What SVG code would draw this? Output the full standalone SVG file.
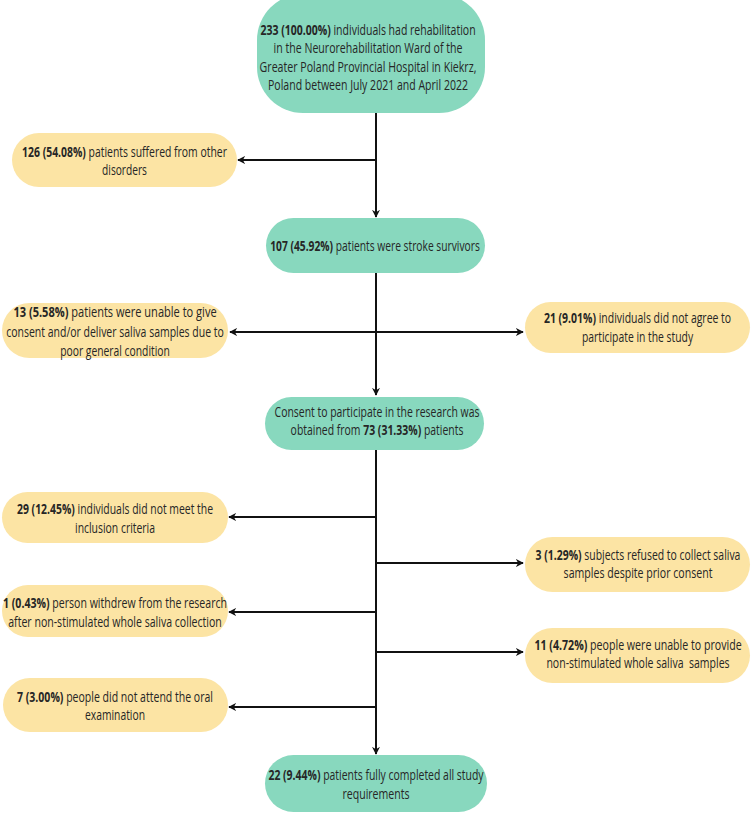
<svg xmlns="http://www.w3.org/2000/svg" width="751" height="813" viewBox="0 0 751 813">
<defs>
<marker id="ah" viewBox="0 0 10 10" refX="9" refY="5" markerWidth="8" markerHeight="8" markerUnits="userSpaceOnUse" orient="auto">
<path d="M0,0 L10,5 L0,10 L3,5 z" fill="#111"/>
</marker>
<style>
.g{fill:#88d8be}
.y{fill:#fce4a4}
text{font-family:"Open Sans","Noto Sans",sans-serif;font-size:14px;fill:#262626;text-anchor:middle}
.b{font-weight:bold}
.c line{stroke:#111;stroke-width:2}
.a{marker-end:url(#ah)}
</style>
</defs>
<rect width="751" height="813" fill="#ffffff"/>
<g class="c" id="connectors">
<line x1="376" y1="113" x2="376" y2="217" class="a"/>
<line x1="376" y1="160" x2="238" y2="160" class="a"/>
<line x1="376" y1="273" x2="376" y2="395" class="a"/>
<line x1="376" y1="332" x2="230" y2="332" class="a"/>
<line x1="376" y1="332" x2="523" y2="332" class="a"/>
<line x1="376" y1="450" x2="376" y2="754" class="a"/>
<line x1="376" y1="517" x2="229" y2="517" class="a"/>
<line x1="376" y1="563" x2="523" y2="563" class="a"/>
<line x1="376" y1="612" x2="229" y2="612" class="a"/>
<line x1="376" y1="652" x2="523" y2="652" class="a"/>
<line x1="376" y1="707" x2="229" y2="707" class="a"/>
</g>
<g id="n233">
<rect class="g" x="257" y="-6" width="228" height="119" rx="46"/>
<text transform="translate(368,35) scale(0.8,1)" textLength="269" lengthAdjust="spacingAndGlyphs"><tspan class="b">233 (100.00%)</tspan> individuals had rehabilitation</text>
<text transform="translate(368,53) scale(0.8,1)" textLength="236" lengthAdjust="spacingAndGlyphs">in the Neurorehabilitation Ward of the</text>
<text transform="translate(368,72) scale(0.8,1)" textLength="271" lengthAdjust="spacingAndGlyphs">Greater Poland Provincial Hospital in Kiekrz,</text>
<text transform="translate(368,90) scale(0.8,1)" textLength="250" lengthAdjust="spacingAndGlyphs">Poland between July 2021 and April 2022</text>
</g>
<g id="n126">
<rect class="y" x="12" y="133" width="225" height="54" rx="27"/>
<text transform="translate(124.5,157) scale(0.8,1)" textLength="256" lengthAdjust="spacingAndGlyphs"><tspan class="b">126 (54.08%)</tspan> patients suffered from other</text>
<text transform="translate(124.5,175) scale(0.8,1)" textLength="56" lengthAdjust="spacingAndGlyphs">disorders</text>
</g>
<g id="n107">
<rect class="g" x="266" y="218" width="219" height="55" rx="27.5"/>
<text transform="translate(375,251) scale(0.8,1)" textLength="262" lengthAdjust="spacingAndGlyphs"><tspan class="b">107 (45.92%)</tspan> patients were stroke survivors</text>
</g>
<g id="n13">
<rect class="y" x="2" y="303" width="226" height="55" rx="27.5"/>
<text transform="translate(115,317) scale(0.8,1)" textLength="254" lengthAdjust="spacingAndGlyphs"><tspan class="b">13 (5.58%)</tspan> patients were unable to give</text>
<text transform="translate(115,337) scale(0.8,1)" textLength="272" lengthAdjust="spacingAndGlyphs">consent and/or deliver saliva samples due to</text>
<text transform="translate(115,356) scale(0.8,1)" textLength="137" lengthAdjust="spacingAndGlyphs">poor general condition</text>
</g>
<g id="n21">
<rect class="y" x="525" y="302" width="225" height="51" rx="25.5"/>
<text transform="translate(637.5,323) scale(0.8,1)" textLength="234" lengthAdjust="spacingAndGlyphs"><tspan class="b">21 (9.01%)</tspan> individuals did not agree to</text>
<text transform="translate(637.5,342) scale(0.8,1)" textLength="139" lengthAdjust="spacingAndGlyphs">participate in the study</text>
</g>
<g id="n73">
<rect class="g" x="265" y="397" width="219" height="53" rx="26.5"/>
<text transform="translate(377,417) scale(0.8,1)" textLength="256" lengthAdjust="spacingAndGlyphs">Consent to participate in the research was</text>
<text transform="translate(377,435) scale(0.8,1)" textLength="216" lengthAdjust="spacingAndGlyphs">obtained from <tspan class="b">73 (31.33%)</tspan> patients</text>
</g>
<g id="n29">
<rect class="y" x="2" y="492" width="226" height="51" rx="25.5"/>
<text transform="translate(115,514) scale(0.8,1)" textLength="245" lengthAdjust="spacingAndGlyphs"><tspan class="b">29 (12.45%)</tspan> individuals did not meet the</text>
<text transform="translate(115,533) scale(0.8,1)" textLength="100" lengthAdjust="spacingAndGlyphs">inclusion criteria</text>
</g>
<g id="n3">
<rect class="y" x="525" y="537" width="225" height="55" rx="27.5"/>
<text transform="translate(638,560) scale(0.8,1)" textLength="256" lengthAdjust="spacingAndGlyphs"><tspan class="b">3 (1.29%)</tspan> subjects refused to collect saliva</text>
<text transform="translate(638,578) scale(0.8,1)" textLength="186" lengthAdjust="spacingAndGlyphs">samples despite prior consent</text>
</g>
<g id="n1">
<rect class="y" x="2" y="585" width="226" height="52" rx="26"/>
<text transform="translate(115,608) scale(0.8,1)" textLength="280" lengthAdjust="spacingAndGlyphs"><tspan class="b">1 (0.43%)</tspan> person withdrew from the research</text>
<text transform="translate(115,627) scale(0.8,1)" textLength="267" lengthAdjust="spacingAndGlyphs">after non-stimulated whole saliva collection</text>
</g>
<g id="n11">
<rect class="y" x="525" y="628" width="225" height="55" rx="27.5"/>
<text transform="translate(638,650) scale(0.8,1)" textLength="259" lengthAdjust="spacingAndGlyphs"><tspan class="b">11 (4.72%)</tspan> people were unable to provide</text>
<text transform="translate(638,668) scale(0.8,1)" textLength="229" lengthAdjust="spacingAndGlyphs" style="white-space:pre">non-stimulated whole saliva  samples</text>
</g>
<g id="n7">
<rect class="y" x="3" y="678" width="225" height="54" rx="27"/>
<text transform="translate(115,702) scale(0.8,1)" textLength="245" lengthAdjust="spacingAndGlyphs"><tspan class="b">7 (3.00%)</tspan> people did not attend the oral</text>
<text transform="translate(115,720) scale(0.8,1)" textLength="75" lengthAdjust="spacingAndGlyphs">examination</text>
</g>
<g id="n22">
<rect class="g" x="265" y="755" width="222" height="57" rx="28.5"/>
<text transform="translate(376,780) scale(0.8,1)" textLength="269" lengthAdjust="spacingAndGlyphs"><tspan class="b">22 (9.44%)</tspan> patients fully completed all study</text>
<text transform="translate(376,799) scale(0.8,1)" textLength="84" lengthAdjust="spacingAndGlyphs">requirements</text>
</g>
</svg>
